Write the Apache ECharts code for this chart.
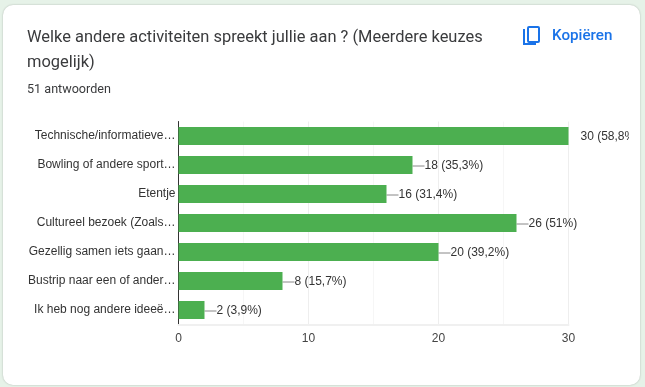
<!DOCTYPE html>
<html><head><meta charset="utf-8">
<style>html,body{margin:0;padding:0;background:#e6f2e8;overflow:hidden}#c{width:645px;height:387px}</style>
<script src="https://cdn.jsdelivr.net/npm/echarts@6/dist/echarts.min.js"></script>
</head><body><div id="c"></div>
<script>
const categories = ["Technische/informatieve…","Bowling of andere sport…","Etentje","Cultureel bezoek (Zoals…","Gezellig samen iets gaan…","Bustrip naar een of ander…","Ik heb nog andere ideeë…"];
const counts = [30,18,16,26,20,8,2];
const percents = ["58,8%","35,3%","31,4%","51%","39,2%","15,7%","3,9%"];
const titleText = "Welke andere activiteiten spreekt jullie aan ? (Meerdere keuzes\nmogelijk)";
const subtitleText = "51 antwoorden";
const copyText = "Kopiëren";
const xTicks = {min:0,max:30,interval:10};

const chart = echarts.init(document.getElementById('c'),null,{renderer:'canvas'});
const font = '"Liberation Sans",Arial,sans-serif';
chart.setOption({
  backgroundColor:'#e6f2e8',
  animation:false,
  graphic:[
    {type:'rect',z:-10,shape:{x:3,y:5,width:637,height:380,r:10},style:{fill:'#fff',shadowBlur:2,shadowColor:'rgba(0,0,0,0.25)'}},
    {type:'text',x:27,y:25,z:5,style:{text:titleText,font:'16.45px Roboto',fill:'#3a3b3d',lineHeight:25}},
    {type:'text',x:27,y:83,z:5,style:{text:subtitleText,font:'12.6px Roboto',fill:'#3a3b3d'}},
    {type:'text',x:552,y:29,z:5,style:{text:copyText,font:'500 15.2px Roboto',fill:'#1a73e8'}},
    {type:'rect',z:5,shape:{x:528,y:27,width:11,height:15,r:1},style:{fill:'none',stroke:'#1a73e8',lineWidth:2}},
    {type:'polyline',z:5,shape:{points:[[524,29],[524,44],[536,44]]},style:{fill:'none',stroke:'#1a73e8',lineWidth:2}},
    {type:'rect',z:100,shape:{x:629,y:125,width:10,height:24},style:{fill:'#fff'}}
  ],
  grid:{left:178.5,top:121.5,width:390,height:203},
  xAxis:{type:'value',min:xTicks.min,max:xTicks.max,interval:xTicks.interval,
    axisLine:{show:true,lineStyle:{color:'#f0f0f0',width:2}},axisTick:{show:false},
    axisLabel:{color:'#444',fontFamily:font,fontSize:12,margin:8},
    splitLine:{show:true,lineStyle:{color:'#eeeeee',width:1}},
    minorTick:{show:false,splitNumber:2},
    minorSplitLine:{show:true,lineStyle:{color:'#f6f6f6',width:1}}},
  yAxis:{type:'category',inverse:true,data:categories,
    axisLine:{show:true,lineStyle:{color:'#333',width:1}},axisTick:{show:false},
    axisLabel:{color:'#333',fontFamily:font,fontSize:12,margin:3,interval:0,padding:[2,0,0,0]}},
  series:[{type:'bar',barWidth:18,itemStyle:{color:'#4caf50'},
    data:counts.map((v,i)=>i===0
      ? {value:v,labelLine:{show:false},label:{width:58,overflow:'truncate',ellipsis:''}}
      : {value:v}),
    label:{show:true,position:'right',distance:0,color:'#333',fontFamily:font,fontSize:12,
      formatter:p=>counts[p.dataIndex]+' ('+percents[p.dataIndex]+')'},
    labelLayout:{dx:12,dy:1},
    labelLine:{show:true,lineStyle:{color:'#888',width:1}}}]
});
</script></body></html>
